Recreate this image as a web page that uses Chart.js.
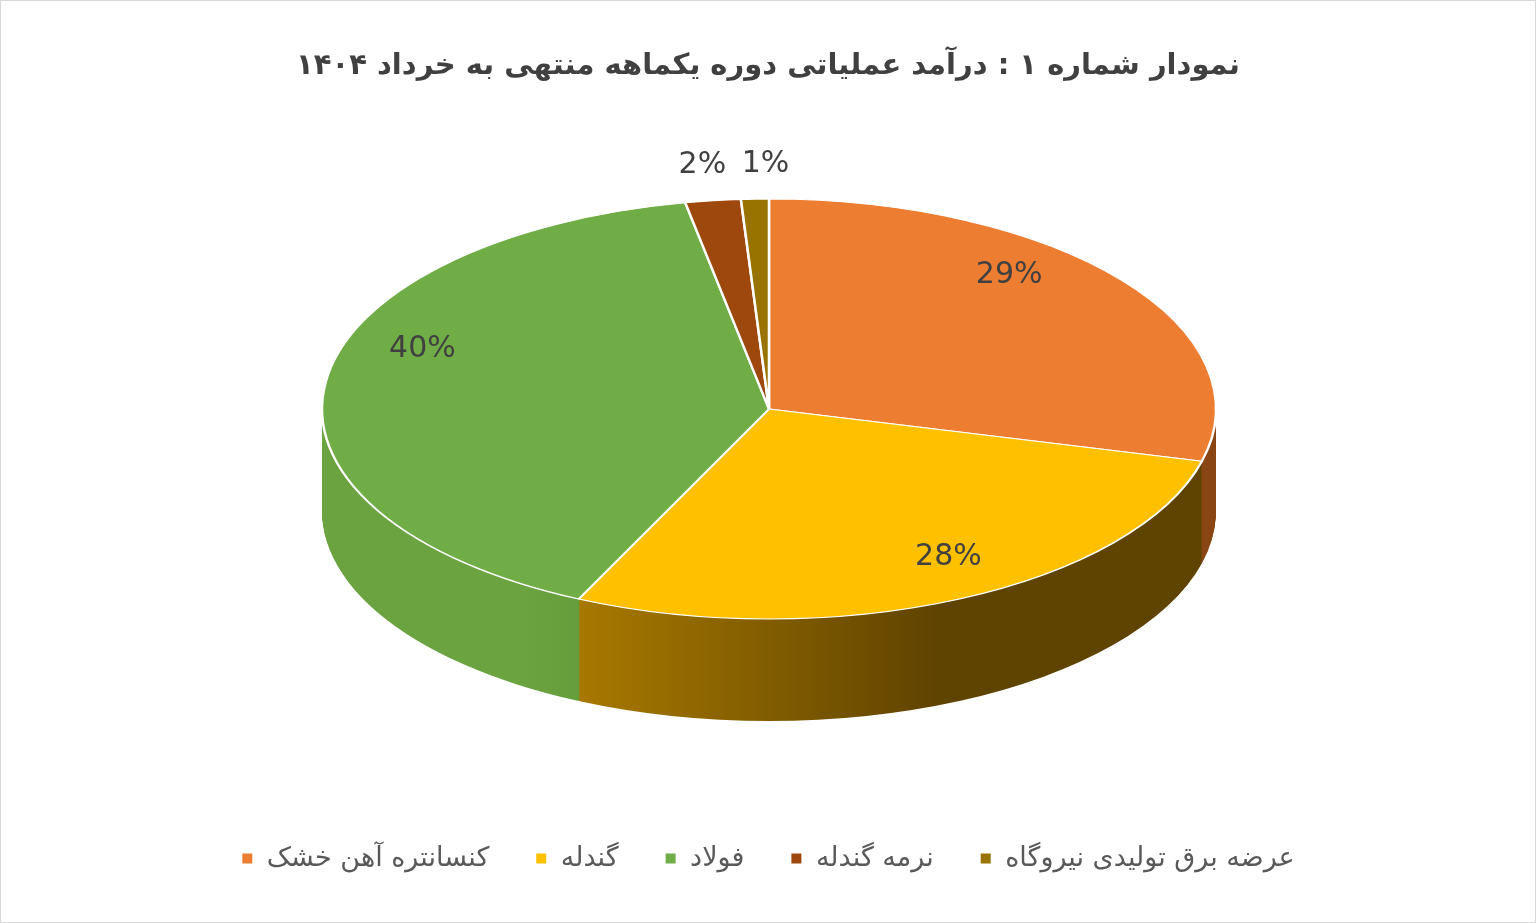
<!DOCTYPE html>
<html><head><meta charset="utf-8">
<script src="https://cdn.jsdelivr.net/npm/chart.js@4.4.0/dist/chart.umd.min.js"></script>
<style>
html,body{margin:0;padding:0;background:#fff;}
#wrap{position:absolute;left:0;top:0;width:1534px;height:921px;border:1px solid #d9d9d9;}
</style></head><body>
<div id="wrap"><canvas id="c"></canvas></div>
<script>
const categories = ['کنسانتره آهن خشک','گندله','فولاد','نرمه گندله','عرضه برق تولیدی نیروگاه'];
const values = [29, 28, 40, 2, 1];
const labelsText = ['29%','28%','40%','2%','1%'];
const topColors = ['#ED7D31','#FFC000','#70AD47','#9E480E','#997300'];
const sideStops = [['#b8611f','#8a4515'],['#b38100','#5f4300'],['#6aa33f','#4a7a2c'],['#6e320a','#6e320a'],['#6b5000','#6b5000']];
const labelShift = [[0,0],[50,20],[-45,-10],[-5,-15],[12,-14]];

const CX=768, CY=408, RX=447, RY=210, DEPTH=102;
const pie3d={
  id:'pie3d',
  beforeDatasetsDraw(chart){
    const meta=chart.getDatasetMeta(0);
    const a0=meta.data[0];
    const r=a0.outerRadius, sx=RX/r, sy=RY/r;
    const ctx=chart.ctx;
    const grads=sideStops.map(s=>{const g=ctx.createLinearGradient(a0.x-r*0.55,0,a0.x+r,0);g.addColorStop(0,s[0]);g.addColorStop(0.6,s[1]);g.addColorStop(1,s[1]);return g;});
    ctx.save();
    ctx.translate(CX,CY);ctx.scale(sx,sy);ctx.translate(-a0.x,-a0.y);
    for(let d=DEPTH;d>0;d-=1){
      ctx.save();ctx.translate(0,d/sy);
      meta.data.forEach((arc,i)=>{
        const bg=arc.options.backgroundColor,bw=arc.options.borderWidth;
        arc.options.backgroundColor=grads[i];arc.options.borderWidth=0;
        arc.draw(ctx);
        arc.options.backgroundColor=bg;arc.options.borderWidth=bw;
      });
      ctx.restore();
    }
  },
  afterDatasetsDraw(chart){
    const ctx=chart.ctx;ctx.restore();
    const meta=chart.getDatasetMeta(0);
    ctx.save();
    ctx.font='30px "DejaVu Sans", sans-serif';
    ctx.fillStyle='#404040';ctx.textAlign='center';ctx.textBaseline='middle';
    meta.data.forEach((arc,i)=>{
      const mid=(arc.startAngle+arc.endAngle)/2;
      let x, y;
      if(values[i]<5){ x=CX+RX*Math.cos(mid)*1.1; y=CY+RY*Math.sin(mid)*1.1; }
      else { x=CX+RX*0.68*Math.cos(mid); y=CY-28+RY*0.82*Math.sin(mid); }
      ctx.fillText(labelsText[i],x+labelShift[i][0],y+labelShift[i][1]);
    });
    ctx.restore();
  }
};
new Chart(document.getElementById('c'),{
  type:'pie',
  data:{labels:categories,datasets:[{data:values,backgroundColor:topColors,borderColor:'#ffffff',borderWidth:2}]},
  options:{
    responsive:true,maintainAspectRatio:false,animation:false,
    layout:{padding:{top:20,bottom:40}},
    plugins:{
      tooltip:{enabled:false},
      title:{display:true,text:'نمودار شماره ۱ : درآمد عملیاتی دوره یکماهه منتهی به خرداد ۱۴۰۴',
        font:{family:'DejaVu Sans',size:29,weight:'bold'},color:'#404040',padding:{top:28,bottom:10}},
      legend:{position:'bottom',textDirection:'rtl',
        labels:{font:{family:'DejaVu Sans',size:27},color:'#595959',boxWidth:12,boxHeight:12,padding:46}}
    }
  },
  plugins:[pie3d]
});
</script></body></html>
